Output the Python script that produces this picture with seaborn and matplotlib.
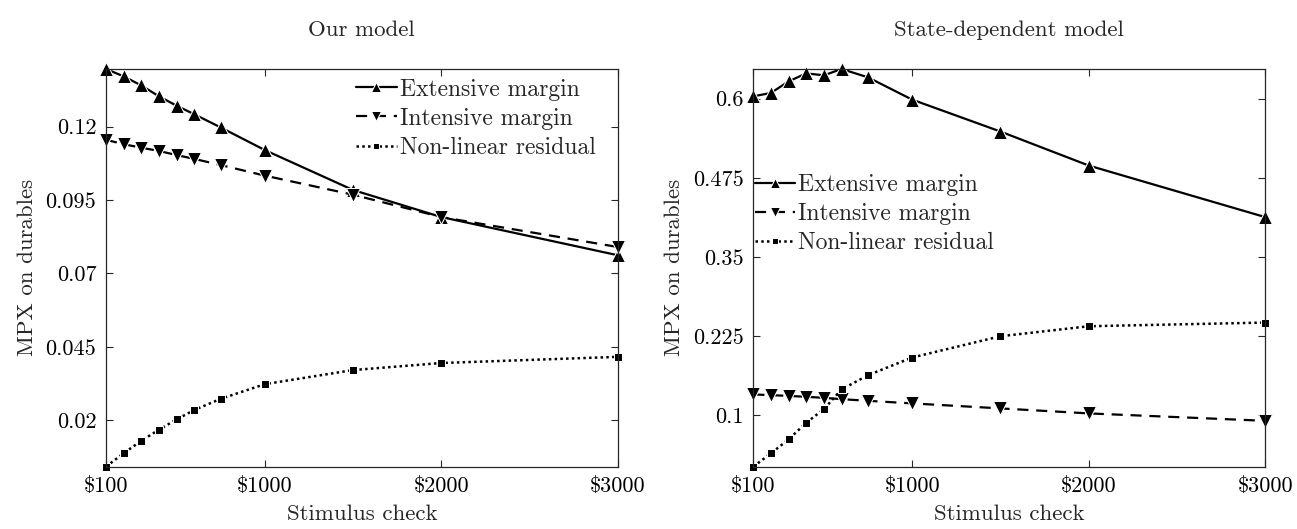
import matplotlib
matplotlib.use("Agg")
import matplotlib.pyplot as plt
import seaborn as sns
import pandas as pd

# stimulus check sizes
checks = [100, 200, 300, 400, 500, 600, 750, 1000, 1500, 2000, 3000]
xticks = [100, 1000, 2000, 3000]
xticklabels = [r"\$100", r"\$1000", r"\$2000", r"\$3000"]

# Our model
ours_ext = [0.1396, 0.1371, 0.1340, 0.1303, 0.1271, 0.1242, 0.1197, 0.1120, 0.0984, 0.0892, 0.0762]
ours_int = [0.1155, 0.1140, 0.1128, 0.1117, 0.1103, 0.1090, 0.1069, 0.1033, 0.0968, 0.0892, 0.0790]
ours_res = [0.0042, 0.0088, 0.0130, 0.0168, 0.0203, 0.0235, 0.0273, 0.0323, 0.0371, 0.0395, 0.0416]
ours_yticks = [0.02, 0.045, 0.07, 0.095, 0.12]

# State-dependent model
sd_ext = [0.6036, 0.6090, 0.6273, 0.6399, 0.6368, 0.6468, 0.6336, 0.5984, 0.5480, 0.4943, 0.4128]
sd_int = [0.1327, 0.1315, 0.1304, 0.1289, 0.1273, 0.1252, 0.1226, 0.1185, 0.1106, 0.1027, 0.0910]
sd_res = [0.0185, 0.0396, 0.0617, 0.0879, 0.1095, 0.1405, 0.1631, 0.1910, 0.2246, 0.2404, 0.2462]
sd_yticks = [0.1, 0.225, 0.35, 0.475, 0.6]

sns.set_style("ticks")
plt.rcParams["font.family"] = "serif"
plt.rcParams["font.serif"] = ["cmr10", "DejaVu Serif"]
plt.rcParams["axes.formatter.use_mathtext"] = True
plt.rcParams["mathtext.fontset"] = "cm"

fig = plt.figure(figsize=(12.97, 5.29), dpi=100)
W, H = 1297, 529
ax1 = fig.add_axes([106 / W, 1 - 466.7 / H, (617.7 - 106) / W, (466.7 - 69) / H])
ax2 = fig.add_axes([753.3 / W, 1 - 466.7 / H, (1265.2 - 753.3) / W, (466.7 - 69) / H])

panels = [
    (ax1, ours_ext, ours_int, ours_res, ours_yticks, "Our model", "upper right", (0.985, 1.012)),
    (ax2, sd_ext, sd_int, sd_res, sd_yticks, "State-dependent model", "upper left", (-0.025, 0.772)),
]

for ax, ext, inten, res, yt, title, loc, anchor in panels:
    df = pd.DataFrame({"check": checks, "ext": ext, "int": inten, "res": res})
    sns.lineplot(data=df, x="check", y="ext", ax=ax, color="black", marker="^",
                 markersize=10, linewidth=1.6, linestyle="-", label="Extensive margin")
    sns.lineplot(data=df, x="check", y="int", ax=ax, color="black", marker="v",
                 markersize=10, linewidth=1.6, linestyle=(0, (5, 3.5)), label="Intensive margin")
    sns.lineplot(data=df, x="check", y="res", ax=ax, color="black", marker="s",
                 markersize=5.5, linewidth=1.8, linestyle=(0, (1, 1.3)), label="Non-linear residual")
    ymin = min(min(ext), min(inten), min(res))
    ymax = max(max(ext), max(inten), max(res))
    ax.set_xlim(checks[0], checks[-1])
    ax.set_ylim(ymin, ymax)
    ax.set_xticks(xticks)
    ax.set_xticklabels(xticklabels)
    ax.set_yticks(yt)
    ax.set_yticklabels([f"{v:g}" for v in yt])
    ax.tick_params(direction="in", top=True, right=True, labelsize=16,
                   length=5, width=0.8, colors="#262626", labelcolor="black", pad=7)
    for s in ax.spines.values():
        s.set_linewidth(0.9)
        s.set_color("#262626")
        s.set_visible(True)
    ax.set_xlabel("Stimulus check", fontsize=16.5, labelpad=6)
    ax.set_ylabel("MPX on durables", fontsize=16.5, labelpad=6)
    ax.set_title(title, fontsize=16.5, pad=24)
    for ln in ax.get_lines():
        ln.set_clip_on(False)
    ax.legend(loc=loc, bbox_to_anchor=anchor, frameon=False, fontsize=17,
              handlelength=1.7, handletextpad=0.15, labelspacing=0.3,
              markerscale=0.75, borderaxespad=0.2)

fig.savefig("out.png", dpi=100)
